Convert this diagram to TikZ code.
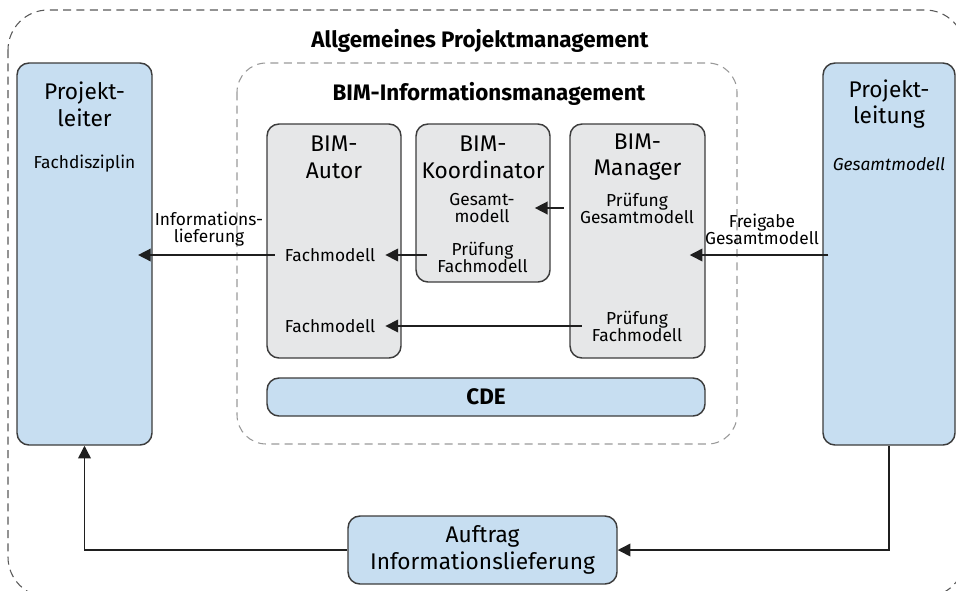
\documentclass[tikz,border=0pt]{standalone}
\usepackage{fontspec}
\setmainfont{Fira Sans}
\usetikzlibrary{arrows.meta}
\definecolor{blau}{HTML}{C7DEF1}
\definecolor{grau}{HTML}{E6E7E8}
\definecolor{rand}{HTML}{3C3C3C}
\tikzset{x=0.75pt,y=-0.75pt,
blaubox/.style={draw=rand, fill=blau, line width=1.1pt, rounded corners=9pt},
graubox/.style={draw=rand, fill=grau, line width=1.1pt, rounded corners=9pt},
rolle/.style={align=center, font=\fontsize{17}{20}\selectfont, inner sep=0pt},
klein/.style={align=center, font=\fontsize{13}{12.8}\selectfont, inner xsep=7.5pt, inner ysep=0pt},
titel/.style={font=\bfseries\fontsize{16.8}{18}\selectfont},
pfeil/.style={-{Triangle[length=9.5pt,width=9.5pt]}, line width=1.1pt, draw=black!88},
}

\begin{document}
\begin{tikzpicture}
    \useasboundingbox (0,0) rectangle (956,590);
    \clip (0,0) rectangle (956,590);
    \draw[dashed, dash pattern=on 6pt off 4pt, draw=black!65, line width=0.8pt, rounded corners=30pt] (8,10) rectangle (965,597);
    \draw[dashed, dash pattern=on 6pt off 4pt, draw=black!40, line width=0.8pt, rounded corners=22pt] (237,63) rectangle (737,444);

    \node[titel] (t1) at (480,41) {Allgemeines Projektmanagement};
    \node[titel] (t2) at (489,94) {BIM-Informationsmanagement};

    \node[blaubox, minimum width=101.25pt, minimum height=286.5pt] (pl) at (84.5,254) {};
    \node[blaubox, minimum width=99pt, minimum height=286.5pt] (pr) at (889,254) {};
    \node[graubox, minimum width=100.5pt, minimum height=175.5pt] (autor) at (334,241) {};
    \node[graubox, minimum width=100.5pt, minimum height=118.5pt] (koord) at (483,203) {};
    \node[graubox, minimum width=101.25pt, minimum height=175.5pt] (mgr) at (637.5,241) {};
    \node[blaubox, minimum width=328.5pt, minimum height=28.5pt, titel] (cde) at (486,397) {CDE};
    \node[blaubox, minimum width=201.75pt, minimum height=51pt, rolle] (auf) at (482.5,550) {Auftrag\\Informationslieferung};

    \node[rolle] (plt) at (84.5,104) {Projekt-\\leiter};
    \node[klein] (plf) at (84.5,164) {Fachdisziplin};
    \node[rolle] (prt) at (889,104) {Projekt-\\leitung};
    \node[klein] (prg) at (889,164) {\textit{Gesamtmodell}};

    \node[rolle] (at) at (334,157) {BIM-\\Autor};
    \node[rolle] (kt) at (483,157) {BIM-\\Koordinator};
    \node[rolle] (mt) at (637.5,157) {BIM-\\Manager};

    \node[klein] (a1) at (330,255) {Fachmodell};
    \node[klein] (a2) at (330,326) {Fachmodell};
    \node[klein] (kgm) at (482,208) {Gesamt-\\modell};
    \node[klein] (kpf) at (482.5,257) {Prüfung\\Fachmodell};
    \node[klein] (mpg) at (637,208) {Prüfung\\Gesamtmodell};
    \node[klein] (mpf) at (637,326) {Prüfung\\Fachmodell};

    \node[klein] (info) at (209,229) {Informations-\\lieferung};
    \node[klein] (frei) at (762,229) {Freigabe\\Gesamtmodell};

    \draw[pfeil] (a1.west) -- ([xshift=-11pt]pl.east |- a1.west);
    \draw[pfeil] (kpf.west |- a1.west) -- (a1.east);
    \draw[pfeil, shorten <=4.5pt, shorten >=7.5pt] (mpg.west) -- (kgm.east);
    \draw[pfeil] ([xshift=4.5pt]pr.west |- a1.west) -- ([xshift=-12pt]mgr.east |- a1.west);
    \draw[pfeil] (mpf.west |- a2.west) -- (a2.east);
    \draw[pfeil] (pr.south) |- (auf.east);
    \draw[pfeil] (auf.west) -| (pl.south);
\end{tikzpicture}
\end{document}
